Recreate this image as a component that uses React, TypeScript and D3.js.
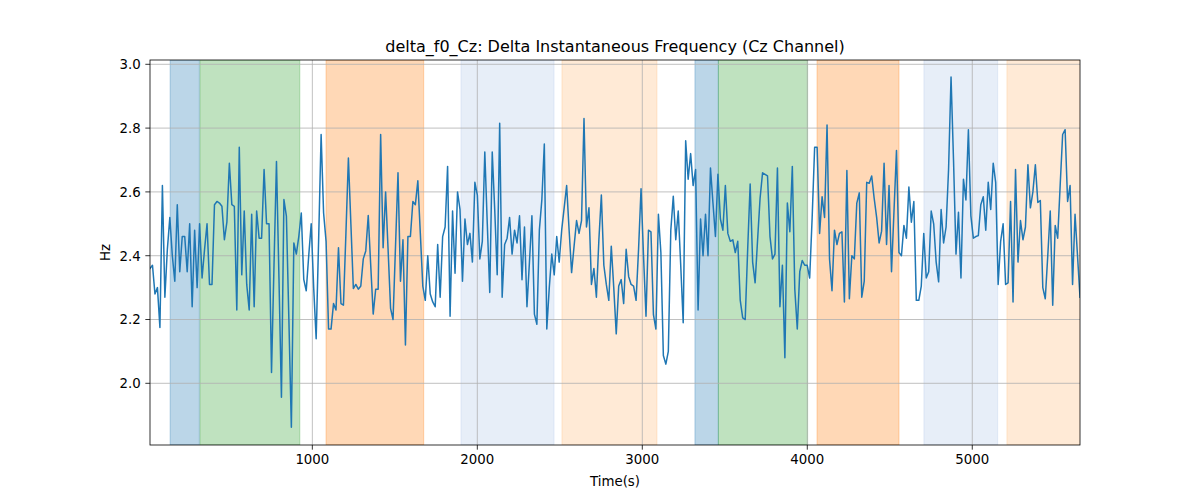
import React from 'react';
import * as d3 from 'd3';

const deltaF0: number[] = [
  2.36, 2.37, 2.28, 2.30, 2.175, 2.62, 2.27, 2.42, 2.52, 2.40,
  2.32, 2.56, 2.35, 2.46, 2.46, 2.35, 2.50, 2.24, 2.48, 2.30,
  2.50, 2.33, 2.42, 2.50, 2.31, 2.31, 2.56, 2.57, 2.565, 2.555,
  2.45, 2.505, 2.69, 2.56, 2.555, 2.23, 2.74, 2.34, 2.54, 2.31,
  2.23, 2.53, 2.24, 2.54, 2.455, 2.455, 2.67, 2.50, 2.50,
  2.034, 2.37, 2.695, 2.33, 1.956, 2.576, 2.524, 2.20, 1.862, 2.44,
  2.405, 2.46, 2.534, 2.326, 2.29, 2.40, 2.50, 2.30, 2.14, 2.45,
  2.78, 2.534, 2.445, 2.17, 2.17, 2.25, 2.23, 2.425, 2.25, 2.245,
  2.47, 2.706, 2.50, 2.297, 2.31, 2.295, 2.305, 2.39, 2.415, 2.526,
  2.37, 2.217, 2.295, 2.295, 2.78, 2.425, 2.60, 2.42,
  2.235, 2.20, 2.43, 2.66, 2.32, 2.45, 2.12, 2.46, 2.46, 2.57,
  2.56, 2.635, 2.47, 2.305, 2.26, 2.40, 2.28, 2.255, 2.24, 2.435,
  2.27, 2.46, 2.49, 2.68, 2.21, 2.54, 2.345, 2.60, 2.545, 2.32,
  2.515, 2.435, 2.47, 2.38, 2.63, 2.59, 2.39, 2.445, 2.725, 2.50,
  2.285, 2.725, 2.545, 2.34, 2.815, 2.27, 2.435,
  2.455, 2.52, 2.405, 2.48, 2.44, 2.525, 2.325, 2.49, 2.24, 2.38,
  2.525, 2.217, 2.185, 2.48, 2.575, 2.75, 2.17, 2.30, 2.405, 2.34,
  2.46, 2.38, 2.48, 2.55, 2.62, 2.48, 2.347, 2.43, 2.51, 2.47,
  2.51, 2.83, 2.49, 2.55, 2.31, 2.36, 2.27, 2.45, 2.59, 2.37,
  2.31, 2.26, 2.43, 2.30, 2.155, 2.305, 2.325,
  2.25, 2.42, 2.335, 2.31, 2.305, 2.26, 2.42, 2.61, 2.40, 2.21,
  2.48, 2.475, 2.215, 2.17, 2.53, 2.41, 2.087, 2.06, 2.10, 2.48,
  2.586, 2.45, 2.54, 2.37, 2.19, 2.76, 2.64, 2.72, 2.62, 2.67,
  2.23, 2.515, 2.40, 2.53, 2.40, 2.675, 2.565, 2.46, 2.655, 2.515,
  2.48, 2.62, 2.47, 2.445, 2.45, 2.41,
  2.445, 2.26, 2.205, 2.20, 2.42, 2.625, 2.38, 2.315, 2.45, 2.58,
  2.66, 2.655, 2.65, 2.46, 2.39, 2.405, 2.675, 2.24, 2.37, 2.08,
  2.565, 2.475, 2.68, 2.295, 2.17, 2.35, 2.385, 2.37, 2.37, 2.33,
  2.52, 2.74, 2.74, 2.47, 2.585, 2.52, 2.81, 2.39, 2.29, 2.48,
  2.435, 2.47, 2.475, 2.255, 2.667, 2.265, 2.40,
  2.39, 2.565, 2.597, 2.27, 2.32, 2.63, 2.627, 2.65, 2.58, 2.52,
  2.44, 2.477, 2.69, 2.435, 2.62, 2.35, 2.54, 2.73, 2.41, 2.40,
  2.495, 2.455, 2.615, 2.505, 2.57, 2.26, 2.26, 2.305, 2.47, 2.33,
  2.35, 2.54, 2.50, 2.38, 2.318, 2.545, 2.44, 2.49, 2.67, 2.96,
  2.70, 2.405, 2.536, 2.33, 2.64, 2.575,
  2.795, 2.525, 2.455, 2.46, 2.463, 2.56, 2.585, 2.48, 2.63, 2.545,
  2.69, 2.63, 2.31, 2.445, 2.50, 2.31, 2.315, 2.57, 2.255, 2.67,
  2.38, 2.51, 2.45, 2.49, 2.685, 2.55, 2.60, 2.685, 2.567, 2.573,
  2.30, 2.265, 2.40, 2.54, 2.245, 2.495, 2.455, 2.62, 2.78, 2.795,
  2.57, 2.62, 2.31, 2.53, 2.40, 2.27,
];

const timeStart = 16;
const timeEnd = 5653;

const spanStarts = [138, 319, 1083, 1901, 2513, 3319, 3461, 4059, 4707, 5210];
const spanEnds = [315, 924, 1675, 2465, 3089, 3461, 4002, 4556, 5154, 5700];
const spanColors = ['#1f77b4', '#2ca02c', '#ff7f0e', '#aec7e8', '#ffbb78', '#1f77b4', '#2ca02c', '#ff7f0e', '#aec7e8', '#ffbb78'];

const xTicks = [1000, 2000, 3000, 4000, 5000];
const yTicks = [2.0, 2.2, 2.4, 2.6, 2.8, 3.0];

const titleText = 'delta_f0_Cz: Delta Instantaneous Frequency (Cz Channel)';
const xLabel = 'Time(s)';
const yLabel = 'Hz';

const W = 1200;
const H = 500;
const M = { left: 150, right: 1080, top: 60, bottom: 445 };
const FONT = '"DejaVu Sans", sans-serif';

export default function App() {
  const n = deltaF0.length;
  const times = d3.range(n).map((i) => timeStart + (i * (timeEnd - timeStart)) / (n - 1));
  const x = d3.scaleLinear().domain([timeStart, timeEnd]).range([M.left, M.right]);
  const y = d3.scaleLinear().domain([1.8066, 3.0135]).range([M.bottom, M.top]);
  const line = d3
    .line<number>()
    .x((_, i) => x(times[i]))
    .y((d) => y(d));

  return (
    <div style={{ position: 'fixed', left: 0, top: 0 }}>
      <svg width={W} height={H} viewBox={`0 0 ${W} ${H}`} style={{ display: 'block', background: '#fff' }}>
        <defs>
          <clipPath id="plotClip">
            <rect x={M.left} y={M.top} width={M.right - M.left} height={M.bottom - M.top} />
          </clipPath>
        </defs>
        <rect x={0} y={0} width={W} height={H} fill="#fff" />
        <g clipPath="url(#plotClip)">
          {spanStarts.map((s, i) => (
            <rect
              key={i}
              x={x(s)}
              y={M.top}
              width={x(spanEnds[i]) - x(s)}
              height={M.bottom - M.top}
              fill={spanColors[i]}
              fillOpacity={0.3}
              stroke={spanColors[i]}
              strokeOpacity={0.3}
              strokeWidth={1}
            />
          ))}
        </g>
        {xTicks.map((t) => (
          <line key={'gx' + t} x1={x(t)} x2={x(t)} y1={M.top} y2={M.bottom} stroke="#b0b0b0" strokeWidth={0.8} />
        ))}
        {yTicks.map((t) => (
          <line key={'gy' + t} x1={M.left} x2={M.right} y1={y(t)} y2={y(t)} stroke="#b0b0b0" strokeWidth={0.8} />
        ))}
        <g clipPath="url(#plotClip)">
          <path d={line(deltaF0) || ''} fill="none" stroke="#1f77b4" strokeWidth={1.5} strokeLinejoin="round" strokeLinecap="square" />
        </g>
        <rect
          x={M.left}
          y={M.top}
          width={M.right - M.left}
          height={M.bottom - M.top}
          fill="none"
          stroke="#000"
          strokeWidth={0.8}
        />
        {xTicks.map((t) => (
          <g key={'tx' + t}>
            <line x1={x(t)} x2={x(t)} y1={M.bottom} y2={M.bottom + 4.67} stroke="#000" strokeWidth={0.8} />
            <text x={x(t)} y={M.bottom + 9.3} dy="0.76em" textAnchor="middle" fontFamily={FONT} fontSize={13.33} fill="#000">
              {t}
            </text>
          </g>
        ))}
        {yTicks.map((t) => (
          <g key={'ty' + t}>
            <line x1={M.left - 4.67} x2={M.left} y1={y(t)} y2={y(t)} stroke="#000" strokeWidth={0.8} />
            <text x={M.left - 9.3} y={y(t)} dy="0.36em" textAnchor="end" fontFamily={FONT} fontSize={13.33} fill="#000">
              {t.toFixed(1)}
            </text>
          </g>
        ))}
        <text x={(M.left + M.right) / 2} y={52} textAnchor="middle" fontFamily={FONT} fontSize={16} fill="#000">
          {titleText}
        </text>
        <text x={(M.left + M.right) / 2} y={486} textAnchor="middle" fontFamily={FONT} fontSize={13.33} fill="#000">
          {xLabel}
        </text>
        <text
          transform={`translate(110, ${(M.top + M.bottom) / 2}) rotate(-90)`}
          textAnchor="middle"
          fontFamily={FONT}
          fontSize={13.33}
          fill="#000"
        >
          {yLabel}
        </text>
      </svg>
    </div>
  );
}
